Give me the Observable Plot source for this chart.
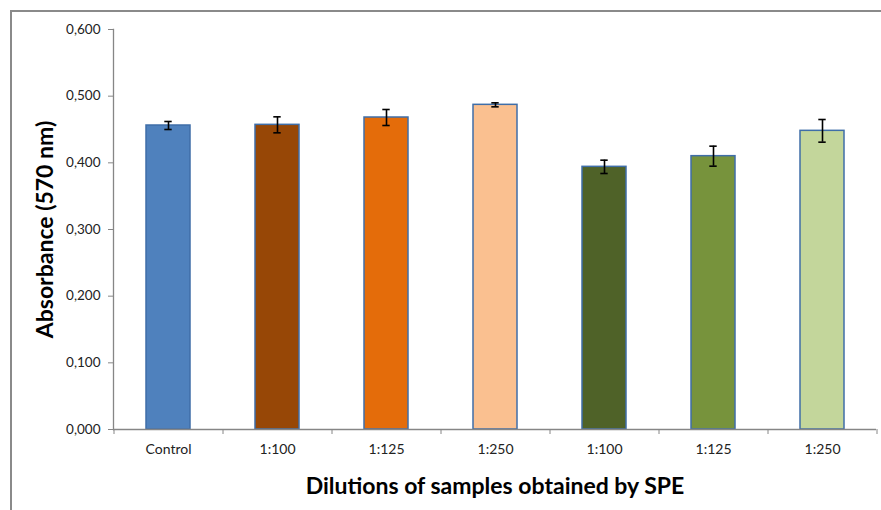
<!DOCTYPE html>
<html>
<head>
<meta charset="utf-8">
<script src="https://cdn.jsdelivr.net/npm/d3@7"></script>
<script src="https://cdn.jsdelivr.net/npm/@observablehq/plot@0.6"></script>
<style>
  html, body { margin: 0; padding: 0; background: #fff; }
  #wrap { position: relative; width: 881px; height: 510px; overflow: hidden; }
  #border { position: absolute; left: 10px; top: 10px; right: -5px; bottom: -5px;
            border-top: 2px solid #8a8a8a; border-left: 2px solid #8a8a8a; pointer-events: none; }
  #chart { position: absolute; left: 0; top: 0; }
  #chart svg { font-family: Lato, "Open Sans", sans-serif; }
  g[aria-label="y-axis label"] text, g[aria-label="x-axis label"] text {
    font-size: 23px; font-weight: bold; fill: #000;
  }
</style>
</head>
<body>
<div id="wrap"><div id="border"></div><div id="chart"></div></div>
<script>
// Absorbance at 570 nm for each dilution, with standard deviation
const labels = ["Control", "1:100", "1:125", "1:250", "1:100", "1:125", "1:250"];
const absorbance = [0.456, 0.457, 0.468, 0.487, 0.394, 0.410, 0.448];
const deviation = [0.006, 0.012, 0.012, 0.003, 0.010, 0.015, 0.017];
const fills = ["#4F81BD", "#974706", "#E46C0A", "#FAC090", "#4F6228", "#77933C", "#C3D69B"];
const yTicks = [0, 0.1, 0.2, 0.3, 0.4, 0.5, 0.6];

const rows = labels.map((label, i) => ({
  i, label, value: absorbance[i], sd: deviation[i], fill: fills[i]
}));

const W = 881, H = 510;
const mL = 113, mR = 5, mT = 29, mB = 81;
const step = (W - mL - mR) / labels.length;
const bandW = step * 0.4;
const capHalf = 3.5;
const fmt = d3.format(".3f");

const plot = Plot.plot({
  width: W,
  height: H,
  marginLeft: mL,
  marginRight: mR,
  marginTop: mT,
  marginBottom: mB,
  style: { fontSize: "14px", color: "#222", background: "transparent" },
  x: { type: "band", domain: d3.range(labels.length), paddingInner: 0.6, paddingOuter: 0.3, align: 0.5 },
  y: { domain: [0, 0.6] },
  marks: [
    Plot.barY(rows, {
      x: "i", y: "value", fill: "fill",
      stroke: "#3F6EA8", strokeWidth: 1.5
    }),
    Plot.ruleX(rows, {
      x: "i", y1: d => d.value - d.sd, y2: d => d.value + d.sd,
      stroke: "#000", strokeWidth: 1.6
    }),
    Plot.tickY(rows, {
      x: "i", y: d => d.value - d.sd, stroke: "#000", strokeWidth: 1.6,
      insetLeft: bandW / 2 - capHalf, insetRight: bandW / 2 - capHalf
    }),
    Plot.tickY(rows, {
      x: "i", y: d => d.value + d.sd, stroke: "#000", strokeWidth: 1.6,
      insetLeft: bandW / 2 - capHalf, insetRight: bandW / 2 - capHalf
    }),
    Plot.frame({ anchor: "left", stroke: "#868686", strokeWidth: 1.3 }),
    Plot.ruleY([0], { stroke: "#868686", strokeWidth: 1.3 }),
    Plot.axisY({
      ticks: yTicks, tickFormat: d => fmt(d).replace(".", ","),
      tickSize: 5, tickPadding: 8, stroke: "#868686", fontSize: 13.5,
      label: "Absorbance (570 nm)", labelAnchor: "center", labelArrow: "none", labelOffset: 77
    }),
    // category labels centred in each band
    Plot.axisX({
      tickSize: 0, tickPadding: 15, tickFormat: i => labels[i], fontSize: 14,
      label: "Dilutions of samples obtained by SPE", labelAnchor: "center", labelArrow: "none", labelOffset: 64
    }),
    // tick marks on the band boundaries
    Plot.axisX({ ticks: d3.range(labels.length), tickSize: 5, tickFormat: () => "", dx: -step / 2, stroke: "#868686", label: null }),
    Plot.axisX({ ticks: [labels.length - 1], tickSize: 5, tickFormat: () => "", dx: step / 2, stroke: "#868686", label: null })
  ]
});

document.getElementById("chart").appendChild(plot);
</script>
</body>
</html>
